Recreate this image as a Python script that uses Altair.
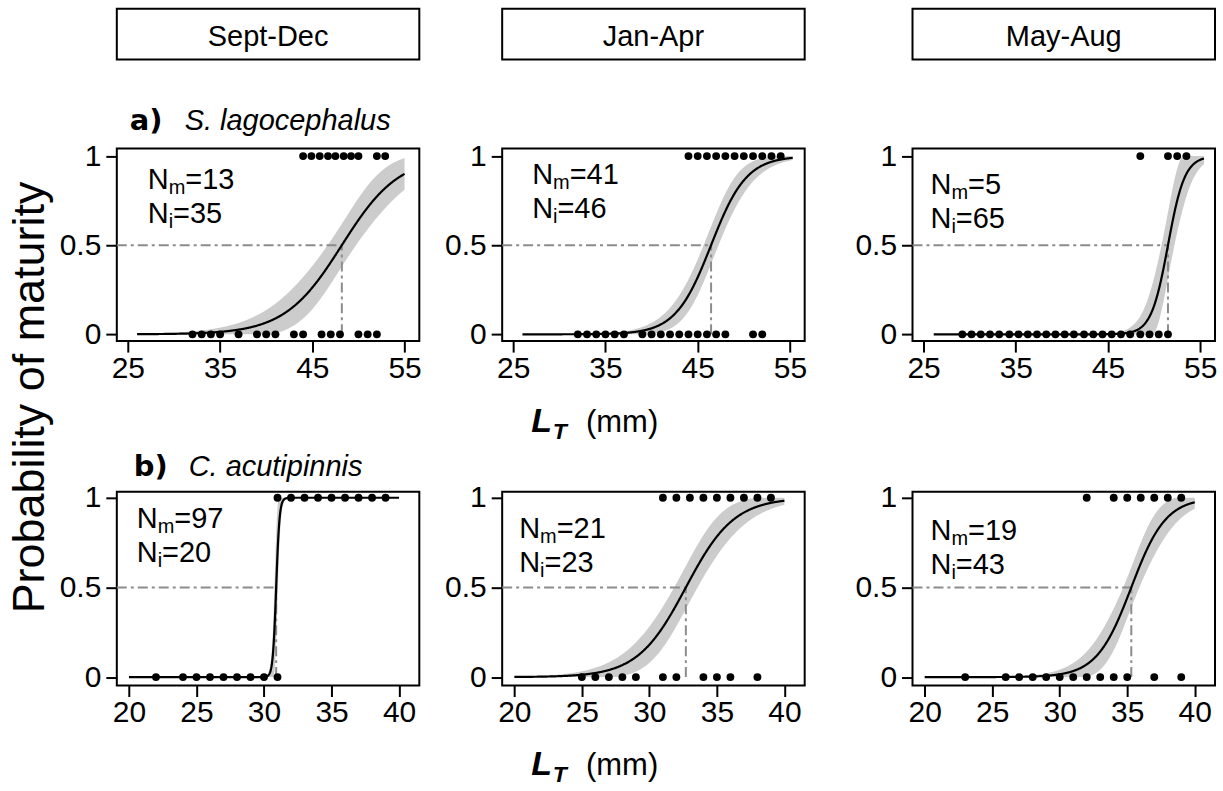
import numpy as np
import pandas as pd
import altair as alt

FONT = "Liberation Sans"
TAG_FONT = "DejaVu Sans"

seasons = ["Sept-Dec", "Jan-Apr", "May-Aug"]
species = ["S. lagocephalus", "C. acutipinnis"]
row_tags = ["a)", "b)"]

# Total length (mm) of mature (plotted at 1) and immature (plotted at 0) fish per season
sl_mature = [
    [44.0, 44.9, 45.8, 46.7, 47.5, 48.4, 49.2, 50.0, 52.0, 52.9],
    [44, 45, 46, 47, 48, 49, 50, 51, 52, 53, 54],
    [48.5, 51.5, 52.5, 53.5],
]
sl_immature = [
    [32, 33, 34, 35, 37, 39, 40, 41, 43, 44, 46, 47, 48, 50, 51, 52],
    [32, 33, 34, 35, 36, 37, 39, 40, 41, 42, 43, 44, 45, 46, 47, 48, 51, 52],
    [29.2, 30.2, 31.2, 32.2, 33.2, 34.3, 35.3, 36.3, 37.3, 38.3, 39.3, 40.3,
     41.3, 42.4, 43.4, 44.4, 45.4, 46.4, 47.4, 48.5, 49.5, 50.5, 51.5],
]
ca_mature = [
    [31, 32, 33, 34, 35, 36, 37, 38, 39],
    [31, 32, 33, 34, 35, 36, 37, 38, 39],
    [32, 34, 35, 36, 37, 38, 39],
]
ca_immature = [
    [22, 24, 25, 26, 27, 28, 29, 30, 31],
    [25, 26, 27, 28, 29, 31, 32, 34, 35, 36, 38],
    [23, 26, 27, 28, 29, 30, 31, 32, 33, 34, 35, 37, 39],
]

# Sample sizes
sl_n_mature = [13, 41, 5]
sl_n_immature = [35, 46, 65]
ca_n_mature = [97, 21, 19]
ca_n_immature = [20, 23, 43]

# Fitted logistic ogives: L50, slope, confidence-band terms, fitted length range
sl_l50 = [48.2, 46.45, 51.5]
sl_slope = [0.323, 0.52, 1.1]
sl_ci_a = [0.48, 0.42, 0.74]
sl_ci_b = [0.126, 0.13, 0.6]
sl_fit_from = [26.0, 26.0, 26.1]
sl_fit_to = [55.0, 55.3, 55.4]

ca_l50 = [30.9, 32.7, 35.3]
ca_slope = [8.0, 0.56, 0.78]
ca_ci_a = [1.2, 0.48, 0.45]
ca_ci_b = [1.0, 0.18, 0.3]
ca_fit_from = [20.0, 20.0, 20.0]
ca_fit_to = [40.0, 40.0, 40.0]

x_ticks = [[25, 35, 45, 55], [20, 25, 30, 35, 40]]
y_ticks = [0, 0.5, 1]

# ---- layout / style ----
X_DOMAIN = [[23.8, 56.6], [19.1, 41.5]]
Y_DOMAIN = [[-0.038, 1.043], [-0.047, 1.033]]
PANEL_W = 303
PANEL_H = [193, 194]
Y_MIN_EXTENT = [60, 65, 90]
TICK_FS = 30
N_FS = 29
SUB_FS = 20
HEAD_FS = 29
TAG_FS = 29
BAND = "#cccccc"
DASH_COLOR = "#8c8c8c"
DASH = [10, 4, 3, 4]
# (x, baseline) of the "N" annotations inside each panel
N_POS = [[(31, 41), (30, 36), (18, 46)], [(20, 36), (17, 46), (18, 48)]]
TAG_Y = [-18, -16]

ADV = {"N": 0.722, "m": 0.833, "i": 0.222, "L": 0.611, "T": 0.611}


def fit_table(l50, k, a, b, lo, hi):
    x = np.linspace(lo, hi, 600)
    d = x - l50
    p = 1.0 / (1.0 + np.exp(-k * d))
    half = p * (1 - p) * np.sqrt(a ** 2 + (b * d) ** 2)
    return pd.DataFrame({"x": x, "p": p,
                         "lo": np.clip(p - half, 0, 1),
                         "hi": np.clip(p + half, 0, 1)})


def label(text, x, y, size, font=FONT, weight="normal", style="normal",
          align="left", baseline="alphabetic"):
    return alt.Chart(pd.DataFrame({"t": [text]})).mark_text(
        font=font, fontSize=size, fontWeight=weight, fontStyle=style,
        align=align, baseline=baseline, color="black"
    ).encode(text="t:N", x=alt.value(x), y=alt.value(y))


def n_label(sub, count, x, y):
    w_n = ADV["N"] * N_FS
    w_s = ADV[sub] * SUB_FS
    return [label("N", x, y, N_FS),
            label(sub, x + w_n, y + 5, SUB_FS),
            label(f"={count}", x + w_n + w_s, y, N_FS)]


def panel(r, c):
    if r == 0:
        mat, imm = sl_mature[c], sl_immature[c]
        nm, ni = sl_n_mature[c], sl_n_immature[c]
        fit = fit_table(sl_l50[c], sl_slope[c], sl_ci_a[c], sl_ci_b[c],
                        sl_fit_from[c], sl_fit_to[c])
        l50 = sl_l50[c]
    else:
        mat, imm = ca_mature[c], ca_immature[c]
        nm, ni = ca_n_mature[c], ca_n_immature[c]
        fit = fit_table(ca_l50[c], ca_slope[c], ca_ci_a[c], ca_ci_b[c],
                        ca_fit_from[c], ca_fit_to[c])
        l50 = ca_l50[c]

    xs = alt.Scale(domain=X_DOMAIN[r], nice=False, zero=False)
    ys = alt.Scale(domain=Y_DOMAIN[r], nice=False, zero=False)
    xax = alt.Axis(values=x_ticks[r], format="d", title=None, grid=False,
                   domain=False, tickSize=11, tickWidth=2, tickColor="black",
                   labelFont=FONT, labelFontSize=TICK_FS, labelColor="black",
                   labelPadding=1, labelFlush=False, labelOverlap=False)
    yax = alt.Axis(values=y_ticks, format="~g", title=None, grid=False,
                   domain=False, tickSize=11, tickWidth=2, tickColor="black",
                   labelFont=FONT, labelFontSize=TICK_FS, labelColor="black",
                   labelPadding=5, labelOverlap=False,
                   minExtent=Y_MIN_EXTENT[c])

    pts = pd.DataFrame({"x": list(mat) + list(imm),
                        "y": [1] * len(mat) + [0] * len(imm)})
    hline = pd.DataFrame({"x0": [X_DOMAIN[r][0]], "x1": [l50], "y": [0.5]})
    vline = pd.DataFrame({"x": [l50], "y0": [0.0], "y1": [0.5]})

    layers = [
        alt.Chart(fit).mark_area(color=BAND, opacity=1).encode(
            x=alt.X("x:Q", scale=xs, axis=xax),
            y=alt.Y("lo:Q", scale=ys, axis=yax), y2="hi:Q"),
        alt.Chart(hline).mark_rule(color=DASH_COLOR, strokeWidth=2,
                                   strokeDash=DASH).encode(
            x=alt.X("x0:Q", scale=xs, axis=xax), x2="x1:Q",
            y=alt.Y("y:Q", scale=ys, axis=yax)),
        alt.Chart(vline).mark_rule(color=DASH_COLOR, strokeWidth=2,
                                   strokeDash=DASH).encode(
            x=alt.X("x:Q", scale=xs, axis=xax),
            y=alt.Y("y0:Q", scale=ys, axis=yax), y2="y1:Q"),
        alt.Chart(fit).mark_line(color="black", strokeWidth=2.2).encode(
            x=alt.X("x:Q", scale=xs, axis=xax),
            y=alt.Y("p:Q", scale=ys, axis=yax)),
        alt.Chart(pts).mark_circle(color="black", opacity=1, size=62).encode(
            x=alt.X("x:Q", scale=xs, axis=xax),
            y=alt.Y("y:Q", scale=ys, axis=yax)),
    ]

    nx, ny = N_POS[r][c]
    layers += n_label("m", nm, nx, ny)
    layers += n_label("i", ni, nx, ny + 34)

    if r == 0:
        # season header box above the top row
        box = alt.Chart(pd.DataFrame({"t": [seasons[c]]})).mark_rect(
            fill="white", stroke="black", strokeWidth=2).encode(
            x=alt.value(0), x2=alt.value(PANEL_W),
            y=alt.value(-140), y2=alt.value(-89))
        layers += [box, label(seasons[c], PANEL_W / 2, -103, HEAD_FS,
                              align="center")]
    if c == 0:
        tag_x = 13 if r == 0 else 17
        layers += [label(row_tags[r], tag_x, TAG_Y[r], TAG_FS, font=TAG_FONT,
                         weight="bold"),
                   label(species[r], tag_x + 55, TAG_Y[r], TAG_FS,
                         style="italic")]
    if c == 1:
        lx = 29
        layers += [label("L", lx, 284, 34, weight="bold", style="italic"),
                   label("T", lx + ADV["L"] * 34 + 1, 291, 23, weight="bold",
                         style="italic"),
                   label("(mm)", 84, 284, 31)]

    return alt.layer(*layers).properties(width=PANEL_W, height=PANEL_H[r])


panels = [panel(r, c) for r in range(2) for c in range(3)]

chart = alt.concat(
    *panels, columns=3, spacing={"row": 7, "column": 14}
).properties(
    align="each",
    background="white",
    padding={"left": 7, "top": 6, "right": 5, "bottom": 5},
    title=alt.TitleParams(text="Probability of maturity", orient="left",
                          anchor="middle", font=FONT, fontSize=45,
                          fontWeight="normal", color="black", offset=3),
).configure_view(stroke="black", strokeWidth=2)

chart.save("out.html", embed_options={"renderer": "svg", "actions": False})
